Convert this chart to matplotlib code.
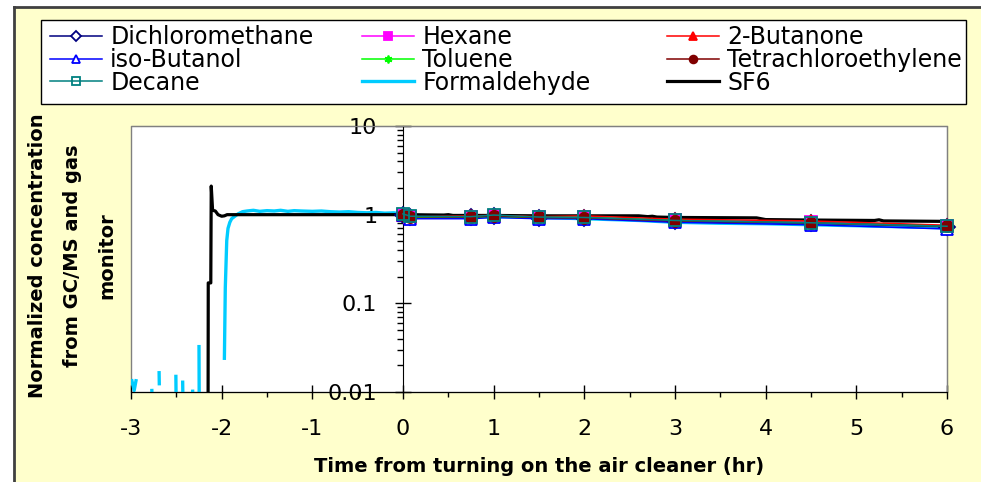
import numpy as np
import matplotlib.pyplot as plt
from matplotlib.patches import Rectangle
from matplotlib.lines import Line2D
from matplotlib.ticker import FixedLocator, FuncFormatter, LogLocator, MultipleLocator

plt.rcParams['font.family'] = 'DejaVu Sans'
plt.rcParams['axes.unicode_minus'] = False

# sampling times (hr) of the GC/MS samples
times = [0.0, 0.08, 0.75, 1.0, 1.5, 2.0, 3.0, 4.5, 6.0]

dichloromethane = [1.00, 0.94, 0.93, 0.96, 0.92, 0.92, 0.84, 0.80, 0.73]
hexane = [1.00, 0.95, 0.95, 0.97, 0.94, 0.95, 0.88, 0.83, 0.75]
butanone = [1.00, 0.94, 0.97, 0.98, 0.95, 0.97, 0.89, 0.85, 0.76]
isobutanol = [0.98, 0.90, 0.90, 0.93, 0.90, 0.90, 0.82, 0.77, 0.69]
toluene = [1.00, 0.94, 0.94, 0.96, 0.93, 0.93, 0.86, 0.81, 0.74]
tetrachloroethylene = [1.00, 0.95, 0.94, 0.97, 0.93, 0.92, 0.85, 0.81, 0.74]
decane = [1.02, 0.96, 0.95, 0.99, 0.94, 0.93, 0.86, 0.81, 0.74]

# formaldehyde monitor (nan = missing / zero readings)
form_t = [-2.99, -2.965, -2.945, np.nan, -2.77, -2.768, np.nan, -2.69, -2.688, np.nan,
          -2.505, -2.503, np.nan, -2.43, -2.428, np.nan, -2.32, -2.318, np.nan,
          -2.25, -2.248, np.nan,
          -1.97, -1.96, -1.944, -1.93, -1.91, -1.89, -1.86, -1.82, -1.77, -1.72,
          -1.65, -1.58, -1.5, -1.42, -1.35, -1.27, -1.2, -1.12, -1.0, -0.9,
          -0.8, -0.7, -0.6, -0.5, -0.4, -0.3, -0.2, -0.1, 0.0,
          0.3, 0.6, 1.0, 1.5, 2.0, 2.3, 2.6, 3.0, 3.5, 4.0, 4.5, 5.0, 5.5, 6.0]
form_v = [0.0134, 0.0104, 0.0134, np.nan, 0.0104, 0.009, np.nan, 0.0165, 0.0124, np.nan,
          0.0150, 0.009, np.nan, 0.0129, 0.009, np.nan, 0.0102, 0.009, np.nan,
          0.0325, 0.009, np.nan,
          0.024, 0.15, 0.51, 0.70, 0.82, 0.90, 0.95, 1.02, 1.08, 1.10,
          1.12, 1.09, 1.11, 1.10, 1.12, 1.09, 1.11, 1.10, 1.09, 1.10,
          1.08, 1.07, 1.08, 1.06, 1.05, 1.06, 1.04, 1.05, 1.00,
          0.97, 0.95, 0.95, 0.93, 0.90, 0.88, 0.86, 0.82, 0.80, 0.79, 0.77, 0.75, 0.73, 0.71]

# SF6 gas monitor
sf6_t = [-2.15, -2.148, -2.12, -2.115, -2.10, -2.07, -2.04, -2.0, -1.97, -1.94,
         -1.0, 0.0, 0.45, 0.5, 0.55, 1.0, 1.5, 2.0, 2.6, 2.7, 2.75, 2.8, 3.0,
         3.9, 4.0, 4.5, 5.2, 5.25, 5.3, 6.0]
sf6_v = [0.005, 0.17, 0.17, 2.1, 1.12, 1.10, 1.0, 0.96, 0.97, 1.0,
         1.0, 1.0, 0.99, 1.0, 0.98, 0.98, 0.97, 0.97, 0.97, 0.95, 0.96, 0.94, 0.93,
         0.92, 0.88, 0.87, 0.86, 0.875, 0.85, 0.84]

compounds = [
    ('Dichloromethane', dichloromethane, '#000080', 'D', 'white'),
    ('Hexane', hexane, '#FF00FF', 's', '#FF00FF'),
    ('2-Butanone', butanone, '#FF0000', '^', '#FF0000'),
    ('iso-Butanol', isobutanol, '#0000FF', '^', 'white'),
    ('Toluene', toluene, '#00FF00', (6, 2, 0), '#00FF00'),
    ('Tetrachloroethylene', tetrachloroethylene, '#800000', 'o', '#800000'),
    ('Decane', decane, '#008080', 's', 'none'),
]

fig = plt.figure(figsize=(9.81, 4.82), dpi=100)
fig.patch.set_facecolor('white')

# yellow chart area with dark border on top and left
fig.patches.append(Rectangle((14 / 981, 0), 1, 1 - 7 / 482, transform=fig.transFigure,
                             facecolor='#FFFFCC', edgecolor='none', zorder=-2))
fig.add_artist(Line2D([14 / 981, 1], [1 - 7 / 482] * 2, transform=fig.transFigure,
                      color='#404040', lw=2, zorder=-1))
fig.add_artist(Line2D([14 / 981] * 2, [0, 1 - 7 / 482], transform=fig.transFigure,
                      color='#404040', lw=2, zorder=-1))

ax = fig.add_axes([131 / 981, 90 / 482, 816 / 981, 266 / 482])
ax.set_facecolor('white')
ax.patch.set_edgecolor('#808080')
ax.patch.set_linewidth(1.0)

handles = {}
ln, = ax.plot(form_t, form_v, color='#00CCFF', lw=2.4, zorder=2)
handles['Formaldehyde'] = ln
ln, = ax.plot(sf6_t, sf6_v, color='black', lw=2.3, zorder=2.5)
handles['SF6'] = ln
for name, vals, col, mk, fc in compounds:
    ln, = ax.plot(times, vals, color=col, lw=1.1, marker=mk, markersize=8,
                  markerfacecolor=fc, markeredgecolor=col, markeredgewidth=1.3,
                  zorder=3, clip_on=False)
    handles[name] = ln

ax.set_yscale('log')
ax.set_xlim(-3, 6)
ax.set_ylim(0.01, 10)

for s in ['top', 'right']:
    ax.spines[s].set_color('#808080')
ax.spines['left'].set_position(('data', 0))
ax.spines['left'].set_color('black')
ax.spines['bottom'].set_color('black')

ax.yaxis.set_major_locator(FixedLocator([0.01, 0.1, 1, 10]))
ax.yaxis.set_major_formatter(FuncFormatter(lambda v, p: '%g' % v))
ax.yaxis.set_minor_locator(LogLocator(base=10, subs=np.arange(2, 10)))
ax.yaxis.set_minor_formatter(FuncFormatter(lambda v, p: ''))
ax.tick_params(axis='y', which='major', direction='inout', length=11, width=1,
               labelsize=16, pad=13)
ax.tick_params(axis='y', which='minor', direction='out', length=4.5, width=1)

ax.xaxis.set_major_locator(MultipleLocator(1))
ax.xaxis.set_minor_locator(MultipleLocator(0.5))
ax.tick_params(axis='x', which='major', direction='inout', length=9.5, width=1,
               labelsize=16, pad=15)
ax.tick_params(axis='x', which='minor', direction='out', length=3.5, width=1)

ax.set_xlabel('Time from turning on the air cleaner (hr)', fontsize=14, fontweight='bold')
ax.xaxis.label.set_va('center')
ax.xaxis.set_label_coords(0.5, -(466 - 392) / 266)

fig.text(72 / 981, 1 - 256 / 482,
         'Normalized concentration\nfrom GC/MS and gas\nmonitor',
         rotation=90, ha='center', va='center', multialignment='center',
         fontsize=14, fontweight='bold', linespacing=2.05)

# legend box with three columns
fig.patches.append(Rectangle((41 / 981, 1 - 104 / 482), 925 / 981, 84 / 482,
                             transform=fig.transFigure, facecolor='white',
                             edgecolor='black', lw=1, zorder=1))
columns = [['Dichloromethane', 'iso-Butanol', 'Decane'],
           ['Hexane', 'Toluene', 'Formaldehyde'],
           ['2-Butanone', 'Tetrachloroethylene', 'SF6']]
col_x = [50, 362, 667]
for names, cx in zip(columns, col_x):
    leg = fig.legend([handles[n] for n in names], names, loc='upper left',
                     bbox_to_anchor=(cx / 981, 1 - 25 / 482), frameon=False,
                     fontsize=17, borderpad=0, borderaxespad=0, handlelength=2.2,
                     handletextpad=0.35, labelspacing=-0.05, markerscale=0.7)

fig.savefig('out.png', dpi=100, facecolor=fig.get_facecolor())
